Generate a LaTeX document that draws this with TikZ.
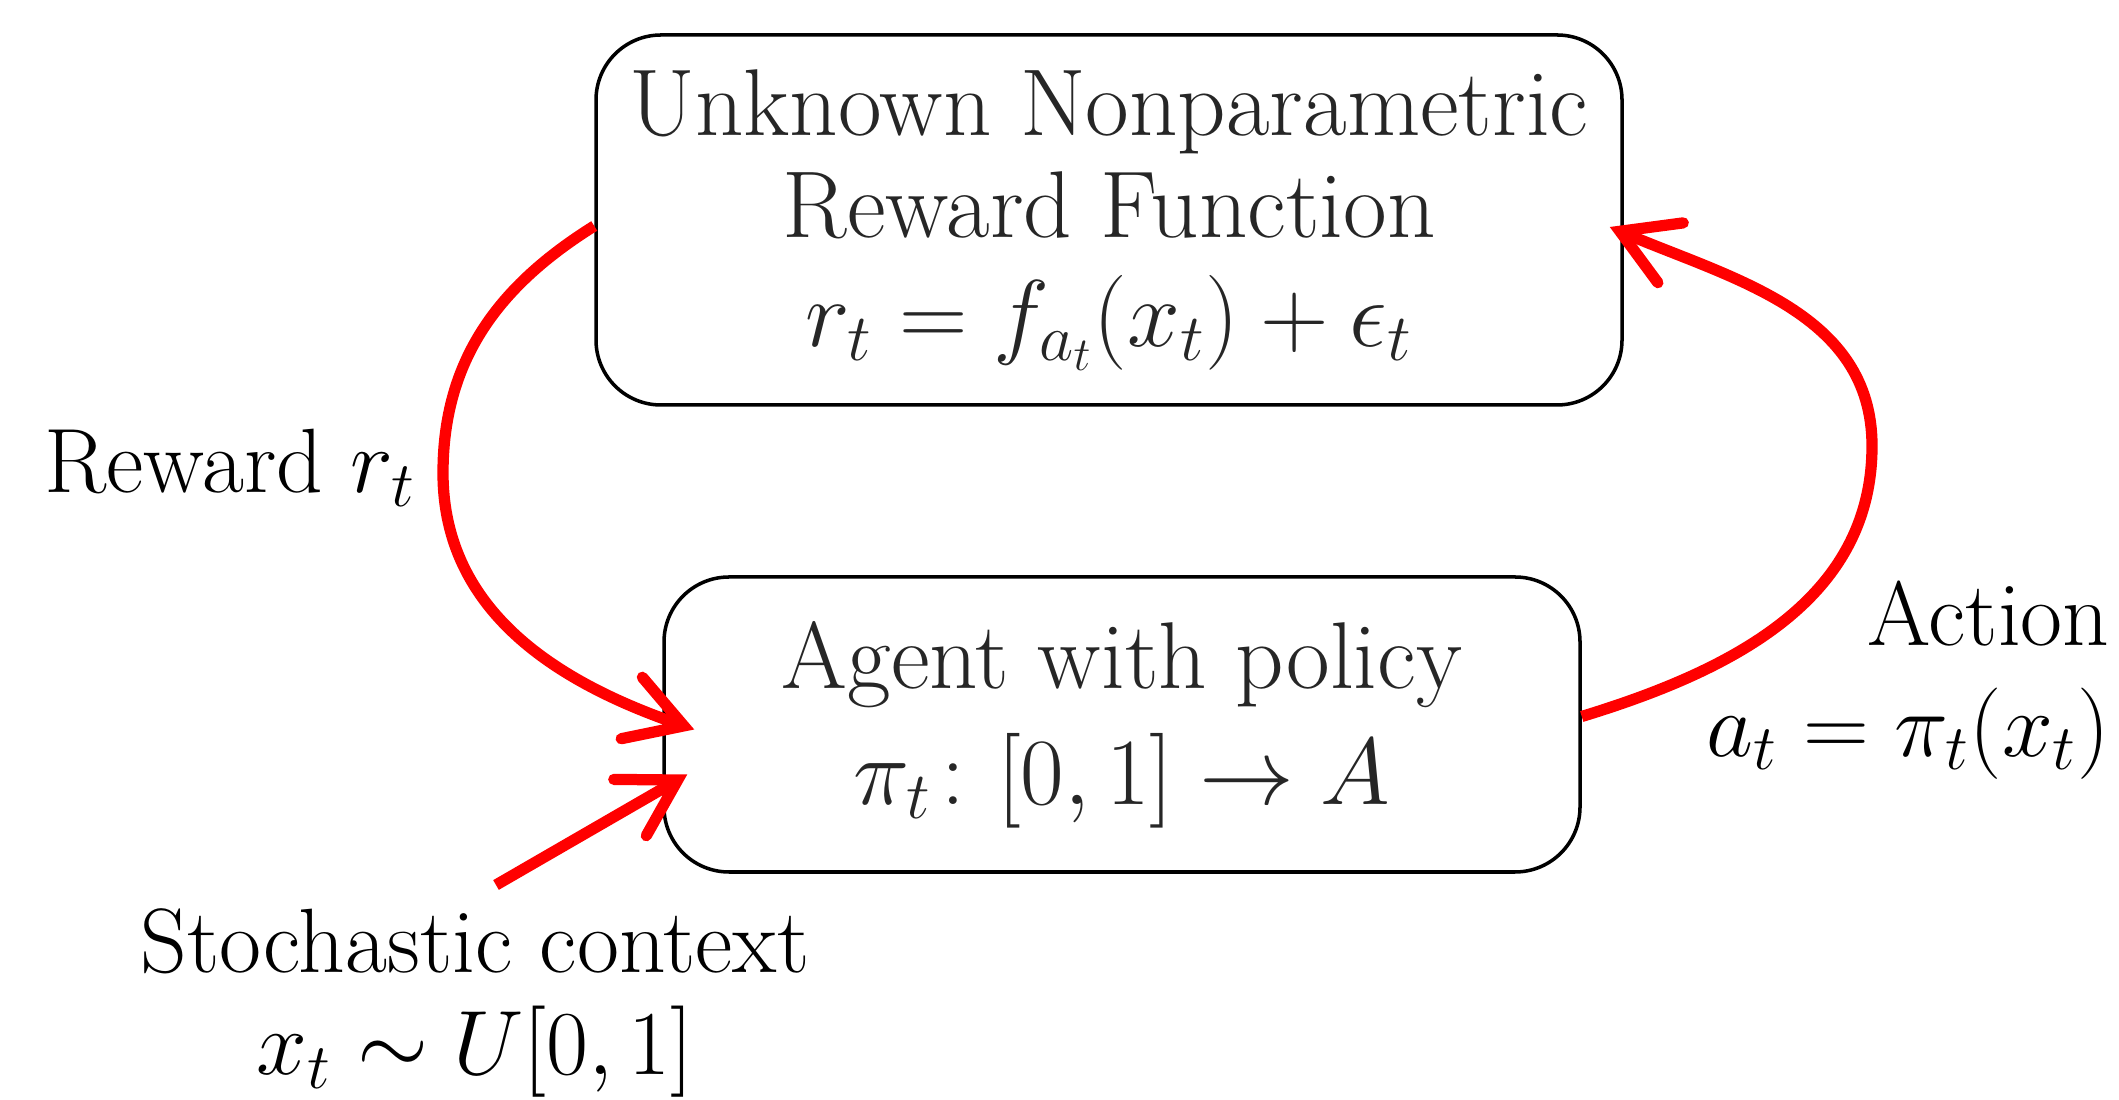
\documentclass[tikz,border=0pt]{standalone}
\usepackage{fix-cm}
\usepackage{amsmath}
\usepackage{amssymb}
\usepackage{tikz}
\usepackage{xcolor}
\usetikzlibrary{arrows.meta,positioning}
\tikzset{
    round-box/.style = {draw=black, line width=1pt, rectangle, rounded corners=6.5mm, align=center, text=black!85, font=\fontsize{27}{29}\selectfont},
    side-label/.style = {align=center, font=\fontsize{26}{29}\selectfont},
    red-flow/.style = {draw=red, line width=3.2pt, -{Straight Barb[length=5.5mm,width=6.5mm,line cap=round,line join=miter]}},
}

\begin{document}
\begin{tikzpicture}
\useasboundingbox (0,0) rectangle (21.19,11);
\node [round-box, minimum width=10.26cm, minimum height=3.7cm] (reward-fn) at (11.09,8.80) {Unknown Nonparametric\\ Reward Function\\[2pt] $r_t = f_{a_t}(x_t) + \epsilon_t$};
\node [round-box, minimum width=9.16cm, minimum height=2.95cm] (agent) at (11.22,3.755) {Agent with policy\\[4pt] $\pi_t\colon [0,1] \rightarrow A$};

\node [side-label] (reward-lbl) at (2.30,6.32) {Reward $r_t$};
\node [side-label, anchor=east, align=right] (action-lbl) at (21.22,4.2) {Action\\[2.5pt] $a_t = \pi_t(x_t)$};
\node [side-label] (context-lbl) at (4.75,0.97) {Stochastic context\\ $x_t \sim U[0,1]$};

\coordinate (reward-bend) at (4.43,6.27);
\coordinate (action-bend) at (18.72,6.54);
\coordinate (context-start) at (4.96,2.15);

\draw [red-flow] ([yshift=-0.6mm]reward-fn.west) to[out=212,in=90] (reward-bend) to[out=-90,in=161] ([xshift=3.2mm,yshift=-0.5mm]agent.west);
\draw [red-flow] ([yshift=0.8mm]agent.east) to[out=17,in=-90] (action-bend) to[out=90,in=-23] ([xshift=-1.4mm,yshift=-0.7mm]reward-fn.east);
\draw [red-flow] (context-start) -- ([xshift=2.5mm,yshift=-5mm]agent.west);
\end{tikzpicture}
\end{document}
